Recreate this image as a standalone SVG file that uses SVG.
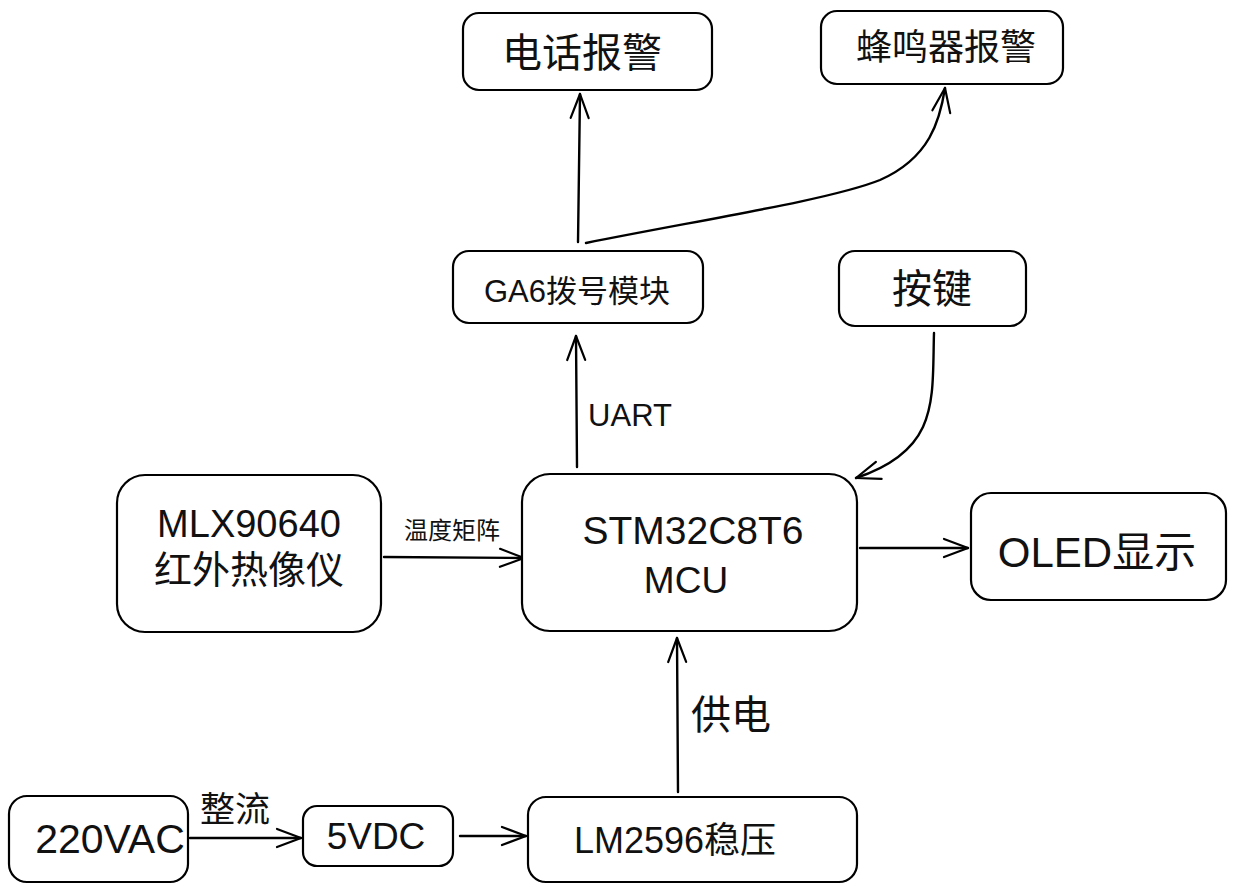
<svg xmlns="http://www.w3.org/2000/svg" width="1237" height="893" viewBox="0 0 1237 893">
<defs>
<marker id="arr" markerUnits="userSpaceOnUse" markerWidth="30" markerHeight="30" viewBox="-26 -15 30 30" refX="0" refY="0" orient="auto">
<path d="M-24,-9 L0,0 L-24,9" fill="none" stroke="#000" stroke-width="2.2" stroke-linecap="round" stroke-linejoin="round"/>
</marker>
<style>
.box{fill:#fff;stroke:#000;stroke-width:2.2}
.t{font-family:"Liberation Sans","Noto Sans CJK SC",sans-serif;fill:#111;text-anchor:middle}
.c{fill:none;stroke:#000;stroke-width:2.4;stroke-linecap:round;marker-end:url(#arr)}
</style>
</defs>
<rect width="1237" height="893" fill="#fff"/>
<g id="connectors">
<path class="c" d="M578,242 L580,94"/>
<path class="c" d="M586,243 C700,220 830,200 880,180 C930,158 940,120 945,88"/>
<path class="c" d="M577,467 L576,336"/>
<path class="c" d="M934,333 C932,400 940,450 856,478"/>
<path class="c" d="M384,557 L524,558"/>
<path class="c" d="M860,548 L968,548"/>
<path class="c" d="M678,792 L677,638"/>
<path class="c" d="M190,838 L301,838"/>
<path class="c" d="M460,836 L526,836"/>
<text class="t" x="630" y="426" font-size="31">UART</text>
<text class="t" x="452" y="539" font-size="24">温度矩阵</text>
<text class="t" x="731" y="729" font-size="40">供电</text>
<text class="t" x="235" y="822" font-size="35">整流</text>
</g>
<g id="n_phone">
<rect class="box" x="463" y="13" width="249" height="77" rx="16"/>
<text class="t" x="582" y="67" font-size="40">电话报警</text>
</g>
<g id="n_buzzer">
<rect class="box" x="821" y="11" width="242" height="73" rx="16"/>
<text class="t" x="946" y="60" font-size="36">蜂鸣器报警</text>
</g>
<g id="n_ga6">
<rect class="box" x="453" y="251" width="250" height="72" rx="16"/>
<text class="t" x="577" y="302" font-size="31">GA6拨号模块</text>
</g>
<g id="n_key">
<rect class="box" x="839" y="251" width="187" height="75" rx="16"/>
<text class="t" x="932" y="303" font-size="40">按键</text>
</g>
<g id="n_mlx">
<rect class="box" x="117" y="475" width="264" height="157" rx="28"/>
<text class="t" x="249" y="537" font-size="38">MLX90640</text>
<text class="t" x="249" y="583" font-size="38">红外热像仪</text>
</g>
<g id="n_stm32">
<rect class="box" x="522" y="474" width="335" height="157" rx="28"/>
<text class="t" x="693" y="544" font-size="39">STM32C8T6</text>
<text class="t" x="686" y="593" font-size="37">MCU</text>
</g>
<g id="n_oled">
<rect class="box" x="971" y="493" width="255" height="107" rx="20"/>
<text class="t" x="1097" y="567" font-size="42">OLED显示</text>
</g>
<g id="n_220">
<rect class="box" x="9" y="796" width="179" height="86" rx="18"/>
<text class="t" x="110" y="853" font-size="41">220VAC</text>
</g>
<g id="n_5vdc">
<rect class="box" x="303" y="806" width="150" height="60" rx="14"/>
<text class="t" x="376" y="849" font-size="37">5VDC</text>
</g>
<g id="n_lm">
<rect class="box" x="528" y="797" width="329" height="85" rx="18"/>
<text class="t" x="675" y="853" font-size="36">LM2596稳压</text>
</g>
</svg>
